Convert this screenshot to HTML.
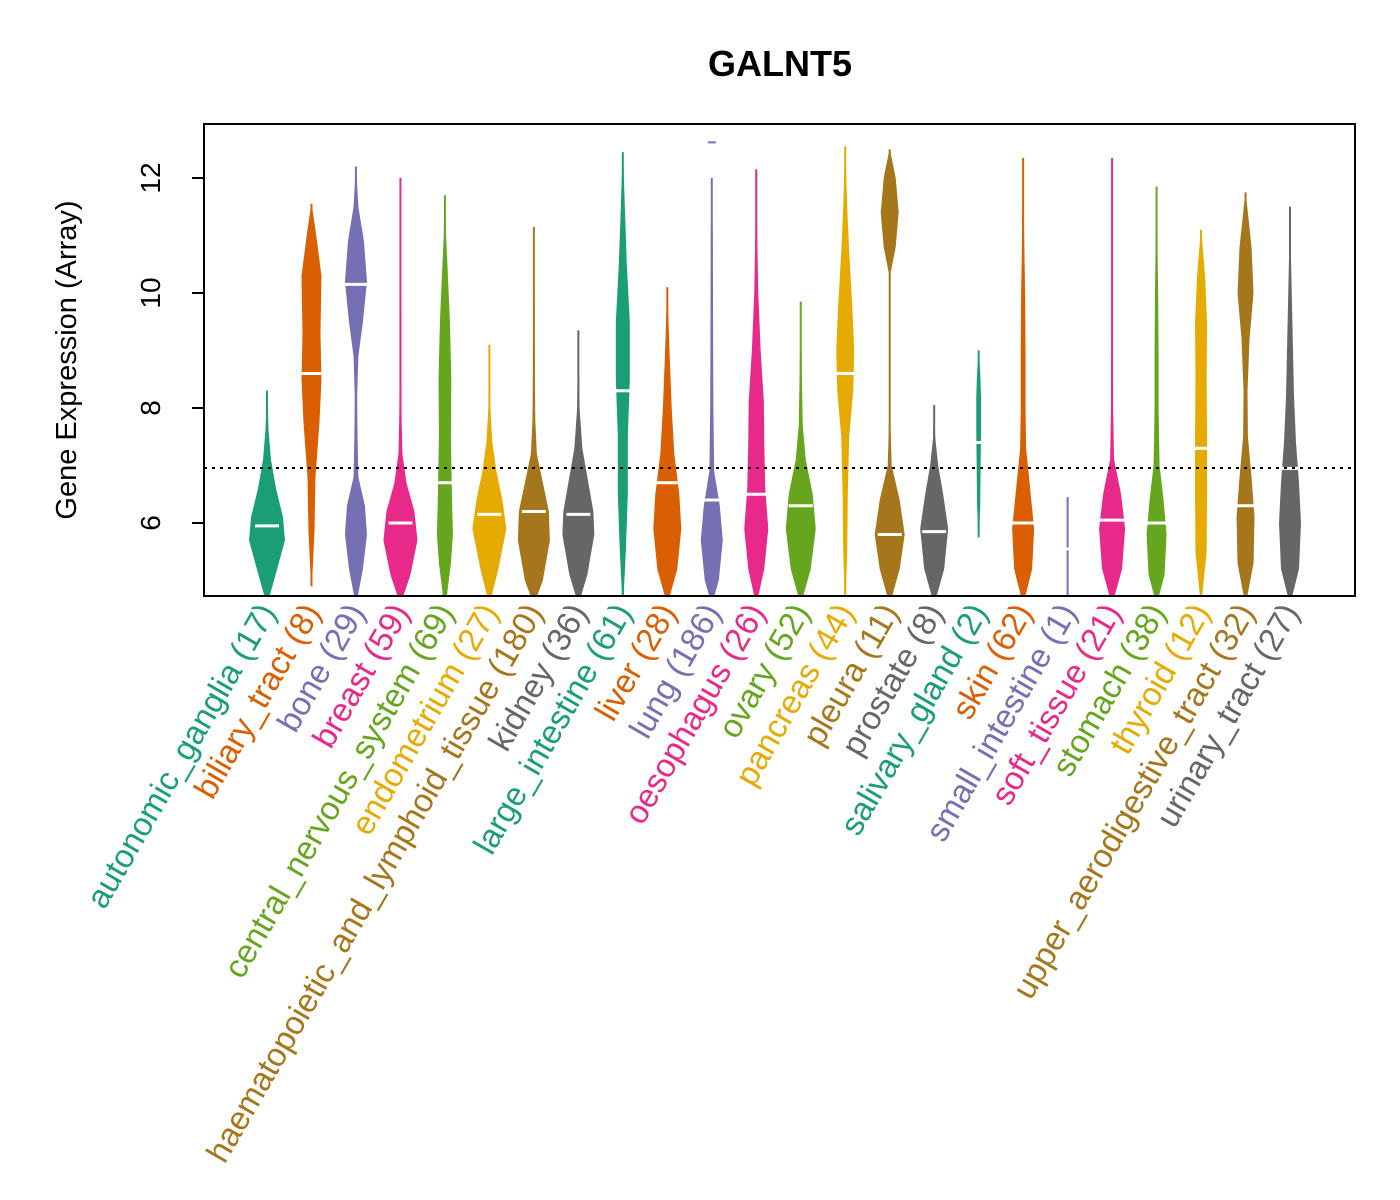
<!DOCTYPE html>
<html><head><meta charset="utf-8"><style>body{margin:0;background:#fff}svg{display:block}</style></head>
<body>
<svg id="chart" width="1400" height="1200" xmlns="http://www.w3.org/2000/svg" font-family="Liberation Sans, sans-serif">
<defs><clipPath id="plotclip"><rect x="204" y="124" width="1151" height="472"/></clipPath></defs>
<rect width="1400" height="1200" fill="#fff"/>
<text x="780" y="76" font-size="36" font-weight="bold" text-anchor="middle">GALNT5</text>
<text transform="translate(76,360) rotate(-90)" font-size="29" text-anchor="middle">Gene Expression (Array)</text>
<g id="violins" clip-path="url(#plotclip)"></g>
<line x1="204" x2="1355" y1="468" y2="468" stroke="#000" stroke-width="2" stroke-dasharray="3,5" id="refline"/>
<rect x="204" y="124" width="1151" height="472" fill="none" stroke="#000" stroke-width="2"/>
<g id="yaxis"></g>
<g id="xlabels"></g>
</svg>
<script>
const categories=["autonomic_ganglia","biliary_tract","bone","breast","central_nervous_system","endometrium","haematopoietic_and_lymphoid_tissue","kidney","large_intestine","liver","lung","oesophagus","ovary","pancreas","pleura","prostate","salivary_gland","skin","small_intestine","soft_tissue","stomach","thyroid","upper_aerodigestive_tract","urinary_tract"];
const counts=[17,8,29,59,69,27,180,36,61,28,186,26,52,44,11,8,2,62,1,21,38,12,32,27];
const colors=["#1B9E77","#D95F02","#7570B3","#E7298A","#66A61E","#E6AB02","#A6761D","#666666"];
const medians=[5.95,8.6,10.15,6.0,6.7,6.15,6.2,6.15,8.3,6.7,6.4,6.5,6.3,8.6,5.8,5.85,7.4,6.0,5.55,6.05,6.0,7.3,6.3,6.95];
const refValue=6.957;
const yTicks=[6,8,10,12];
const profiles=[
[[4.6,0.02],[5.0,0.35],[5.7,0.9],[6.1,0.8],[6.6,0.45],[7.1,0.2],[7.6,0.08],[8.3,0.01]],
[[4.9,0.02],[5.85,0.15],[6.8,0.2],[7.75,0.4],[8.5,0.5],[9.3,0.45],[10.3,0.5],[11.1,0.2],[11.55,0.01]],
[[4.6,0.02],[5.2,0.35],[5.8,0.55],[6.3,0.45],[6.8,0.12],[7.5,0.08],[8.2,0.06],[8.9,0.12],[9.5,0.35],[10.2,0.55],[10.9,0.4],[11.5,0.12],[12.2,0.01]],
[[4.6,0.02],[5.1,0.5],[5.7,0.85],[6.2,0.7],[6.7,0.3],[7.2,0.1],[7.8,0.06],[8.5,0.04],[9.5,0.04],[10.5,0.03],[11.3,0.03],[12.0,0.01]],
[[4.6,0.05],[5.3,0.3],[5.8,0.4],[6.5,0.35],[7.5,0.3],[8.5,0.32],[9.5,0.25],[10.3,0.15],[11.0,0.06],[11.7,0.01]],
[[4.6,0.02],[5.2,0.45],[5.9,0.85],[6.4,0.65],[6.9,0.35],[7.4,0.15],[8.0,0.05],[8.6,0.03],[9.1,0.01]],
[[4.6,0.02],[5.0,0.45],[5.7,0.8],[6.2,0.75],[6.7,0.45],[7.2,0.15],[7.8,0.07],[8.5,0.05],[9.5,0.04],[10.3,0.03],[11.15,0.01]],
[[4.6,0.02],[5.1,0.45],[5.8,0.8],[6.2,0.75],[6.8,0.45],[7.3,0.2],[8.0,0.06],[8.7,0.03],[9.35,0.01]],
[[4.6,0.02],[5.5,0.15],[6.5,0.25],[7.5,0.25],[8.5,0.35],[9.5,0.35],[10.5,0.2],[11.3,0.12],[12.45,0.01]],
[[4.6,0.02],[5.2,0.5],[5.9,0.7],[6.5,0.6],[7.2,0.35],[8.0,0.22],[8.9,0.12],[9.5,0.06],[10.1,0.01]],
[[4.6,0.02],[5.0,0.35],[5.7,0.55],[6.3,0.4],[6.9,0.12],[8.0,0.08],[9.0,0.07],[10.0,0.06],[11.0,0.05],[12.0,0.01]],
[[4.6,0.02],[5.2,0.4],[5.9,0.6],[6.6,0.45],[7.4,0.4],[8.1,0.38],[9.0,0.22],[10.0,0.1],[11.0,0.05],[12.15,0.01]],
[[4.6,0.02],[5.2,0.5],[5.9,0.75],[6.5,0.6],[7.1,0.25],[7.7,0.1],[8.7,0.05],[9.85,0.01]],
[[4.6,0.02],[5.5,0.1],[6.5,0.13],[7.5,0.2],[8.3,0.4],[9.0,0.45],[9.8,0.35],[10.7,0.2],[11.5,0.1],[12.55,0.01]],
[[4.6,0.02],[5.2,0.5],[5.8,0.75],[6.4,0.5],[7.0,0.1],[7.8,0.03],[8.6,0.01],[9.5,0.0],[10.3,0.02],[10.8,0.3],[11.4,0.45],[12.0,0.3],[12.5,0.01]],
[[4.6,0.02],[5.2,0.5],[5.9,0.7],[6.5,0.45],[7.0,0.2],[7.5,0.05],[8.05,0.01]],
[[5.75,0.01],[6.3,0.08],[7.0,0.1],[7.6,0.12],[8.2,0.12],[8.6,0.08],[9.0,0.01]],
[[4.6,0.02],[5.2,0.45],[5.9,0.55],[6.6,0.35],[7.3,0.15],[8.0,0.12],[9.0,0.12],[10.0,0.1],[11.0,0.05],[12.35,0.01]],
[[4.73,0.0],[6.45,0.0]],
[[4.6,0.02],[5.2,0.5],[5.9,0.65],[6.5,0.45],[7.1,0.1],[8.0,0.05],[9.0,0.04],[10.0,0.03],[11.0,0.02],[12.35,0.01]],
[[4.6,0.02],[5.1,0.4],[5.8,0.5],[6.4,0.35],[7.0,0.15],[8.0,0.1],[9.0,0.1],[10.0,0.08],[11.0,0.04],[11.85,0.01]],
[[4.6,0.02],[5.5,0.28],[6.5,0.3],[7.5,0.3],[8.5,0.28],[9.5,0.3],[10.3,0.2],[11.1,0.01]],
[[4.6,0.02],[5.3,0.4],[6.1,0.45],[6.8,0.3],[7.5,0.12],[8.3,0.1],[9.2,0.2],[10.0,0.4],[10.8,0.3],[11.75,0.01]],
[[4.6,0.02],[5.2,0.45],[6.0,0.55],[6.7,0.45],[7.4,0.3],[8.2,0.2],[9.0,0.15],[9.8,0.1],[10.6,0.05],[11.5,0.01]]
];
const outliers=[[10,12.62]];
const NS="http://www.w3.org/2000/svg";
function yScale(v){return 523-(v-6)*57.5;}
function xScale(i){return 267+i*(1290-267)/23;}
const halfMax=20;
const vg=document.getElementById('violins');
profiles.forEach((p,i)=>{
  const cx=xScale(i),col=colors[i%8];
  const lo=p[0][0],hi=p[p.length-1][0];
  const ln=document.createElementNS(NS,'line');
  
  
  ln.setAttribute('x1',cx);ln.setAttribute('x2',cx);ln.setAttribute('y1',yScale(lo));ln.setAttribute('y2',yScale(hi));
  ln.setAttribute('stroke',col);ln.setAttribute('stroke-width','2');vg.appendChild(ln);
  let r=[],l=[];
  p.forEach(([v,w])=>{r.push((cx+w*halfMax)+','+yScale(v));l.unshift((cx-w*halfMax)+','+yScale(v));});
  const poly=document.createElementNS(NS,'polygon');
  
  
  poly.setAttribute('points',r.concat(l).join(' '));
  poly.setAttribute('fill',col);vg.appendChild(poly);
  const m=document.createElementNS(NS,'line');
  
  
  m.setAttribute('x1',cx-12);m.setAttribute('x2',cx+12);m.setAttribute('y1',yScale(medians[i]));m.setAttribute('y2',yScale(medians[i]));
  m.setAttribute('stroke','#fff');m.setAttribute('stroke-width','3');vg.appendChild(m);
});
outliers.forEach(([i,v])=>{
  const o=document.createElementNS(NS,'line');
  
  
  o.setAttribute('x1',xScale(i)-4);o.setAttribute('x2',xScale(i)+4);o.setAttribute('y1',yScale(v));o.setAttribute('y2',yScale(v));
  o.setAttribute('stroke',colors[i%8]);o.setAttribute('stroke-width','2');vg.appendChild(o);
});
const rl=document.getElementById('refline');
rl.setAttribute('y1',yScale(refValue));rl.setAttribute('y2',yScale(refValue));
const ya=document.getElementById('yaxis');
yTicks.forEach(t=>{
  const y=yScale(t);
  const tk=document.createElementNS(NS,'line');
  
  
  tk.setAttribute('x1',192);tk.setAttribute('x2',204);tk.setAttribute('y1',y);tk.setAttribute('y2',y);
  tk.setAttribute('stroke','#000');tk.setAttribute('stroke-width','2');ya.appendChild(tk);
  const tx=document.createElementNS(NS,'text');
  
  
  tx.setAttribute('transform','translate(160,'+y+') rotate(-90)');
  tx.setAttribute('text-anchor','middle');tx.setAttribute('font-size','28');
  tx.textContent=t;ya.appendChild(tx);
});
const xl=document.getElementById('xlabels');
categories.forEach((c,i)=>{
  const cx=xScale(i);
  const tx=document.createElementNS(NS,'text');
  
  
  tx.setAttribute('transform','translate('+(cx+10)+',612) rotate(-60)');
  tx.setAttribute('text-anchor','end');tx.setAttribute('font-size','33');
  tx.setAttribute('fill',colors[i%8]);
  tx.textContent=c+' ('+counts[i]+')';xl.appendChild(tx);
});
</script>
</body></html>
